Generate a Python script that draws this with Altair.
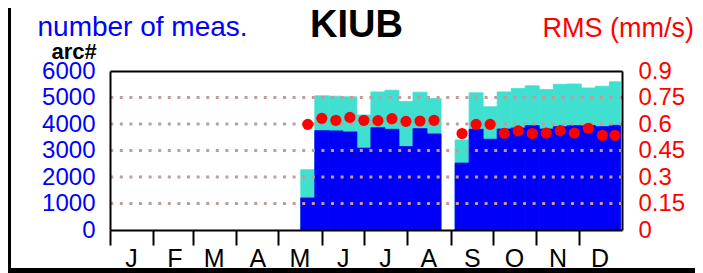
import altair as alt
import pandas as pd

# ---- data ----
bin_start = [136, 146, 156, 166, 176, 186, 196, 206, 216, 226,
             246, 256, 266, 276, 286, 296, 306, 316, 326, 336, 346, 356]
bin_end = [146, 156, 166, 176, 186, 196, 206, 216, 226, 236,
           256, 266, 276, 286, 296, 306, 316, 326, 336, 346, 356, 364]
total_meas = [2275, 5063, 5050, 5025, 4340, 5210, 5275, 4850, 5200, 4960,
              3400, 5175, 4650, 5210, 5340, 5440, 5300, 5500, 5510, 5360, 5425, 5590]
arc_meas = [1210, 3750, 3740, 3700, 3090, 3860, 3800, 3150, 3825, 3625,
            2525, 3800, 3425, 3810, 3850, 3940, 3810, 3900, 3940, 3940, 3900, 3950]
rms = [0.598, 0.632, 0.621, 0.6375, 0.621, 0.619, 0.630, 0.615, 0.617, 0.621,
       0.546, 0.598, 0.598, 0.5475, 0.561, 0.546, 0.549, 0.5625, 0.549, 0.576, 0.536, 0.536]

month_letters = ["J", "F", "M", "A", "M", "J", "J", "A", "S", "O", "N", "D"]
month_starts = [0, 31, 59, 90, 120, 151, 181, 212, 243, 273, 304, 334]
left_ticks = [0, 1000, 2000, 3000, 4000, 5000, 6000]
right_ticks = [0, 0.15, 0.3, 0.45, 0.6, 0.75, 0.9]
grid_levels = [1000, 2000, 3000, 4000, 5000]

df = pd.DataFrame({"start": bin_start, "end": bin_end, "total": total_meas,
                   "arc": arc_meas, "rms": rms})
grid_df = pd.DataFrame({"g": grid_levels})

FONT = "Liberation Sans"
W, H = 512, 159
TURQ = "#40e0d0"
BLUE = "#0000f8"

xscale = alt.Scale(domain=[0, 365], nice=False, zero=False)
yscale = alt.Scale(domain=[0, 6000], nice=False)
rscale = alt.Scale(domain=[0, 0.9], nice=False)

label_expr = ("[" + ",".join("'%s'" % m for m in month_letters) + "][indexof(["
              + ",".join(str(v) for v in month_starts) + "], datum.value)]")

x_axis = alt.Axis(values=month_starts, labelExpr=label_expr, labelOffset=21,
                  labelFontSize=25, labelColor="black", labelFont=FONT,
                  labelPadding=1, tickSize=15, tickWidth=2, tickColor="black",
                  domain=True, domainColor="black", domainWidth=2, grid=False,
                  zindex=1, labelFlush=False, labelOverlap=False,
                  title="number of meas.", titleColor="#0000ff", titleFont=FONT,
                  titleFontSize=28, titleFontWeight="normal", titleAngle=0,
                  titleAlign="left", titleBaseline="alphabetic",
                  titleX=-73, titleY=-195)

left_axis = alt.Axis(values=left_ticks, orient="left", labelColor="#0000ff",
                     labelExpr="format(datum.value, 'd')",
                     labelFontSize=24, labelFont=FONT, ticks=False, labelPadding=15,
                     domain=True, domainColor="black", domainWidth=2, grid=False,
                     zindex=1, labelFlush=False, labelOverlap=False,
                     title="arc#", titleColor="black", titleFont=FONT,
                     titleFontSize=22, titleFontWeight="bold", titleAngle=0,
                     titleAlign="left", titleBaseline="alphabetic",
                     titleX=-59, titleY=-13)

right_axis = alt.Axis(values=right_ticks, orient="right",
                      labelExpr="format(datum.value, '~g')",
                      labelColor="#ff0000", labelFontSize=24, labelFont=FONT,
                      ticks=False, labelPadding=16, domain=True, domainColor="black",
                      domainWidth=2, grid=False, zindex=1, labelFlush=False,
                      labelOverlap=False,
                      title="RMS (mm/s)", titleColor="#ff0000", titleFont=FONT,
                      titleFontSize=27, titleFontWeight="normal", titleAngle=0,
                      titleAlign="left", titleBaseline="alphabetic",
                      titleX=-80, titleY=-35)

top_axis = alt.Axis(orient="top", labels=False, ticks=False, domain=True,
                    domainColor="black", domainWidth=2, grid=False, zindex=1,
                    title="KIUB", titleColor="black", titleFont=FONT,
                    titleFontSize=38, titleFontWeight="bold", titleAngle=0,
                    titleAlign="center", titleBaseline="alphabetic",
                    titleX=246, titleY=-35)

base = alt.Chart(df)

turq = base.mark_bar(color=TURQ, stroke=TURQ, strokeWidth=0.8, opacity=1).encode(
    x=alt.X("start:Q", scale=xscale, axis=x_axis),
    x2="end:Q",
    y=alt.Y("total:Q", scale=yscale, axis=left_axis),
    y2=alt.datum(0),
)
blue = base.mark_bar(color=BLUE, stroke=BLUE, strokeWidth=0.8, opacity=1).encode(
    x=alt.X("start:Q", scale=xscale, axis=None),
    x2="end:Q",
    y=alt.Y("arc:Q", scale=yscale, axis=None),
    y2=alt.datum(0),
)
grid = alt.Chart(grid_df).mark_rule(color="#c49a9a", strokeWidth=3,
                                    strokeDash=[3, 6.6]).encode(
    y=alt.Y("g:Q", scale=yscale, axis=None),
)
dots = base.transform_calculate(mid="(datum.start + datum.end) / 2").mark_circle(
    color="#ff0000", opacity=1, size=125).encode(
    x=alt.X("mid:Q", scale=xscale, axis=top_axis),
    y=alt.Y("rms:Q", scale=rscale, axis=right_axis),
)
# figure frame strips (bottom and left edge of the reference image)
frame_bottom = alt.Chart(grid_df).mark_rule(color="black", strokeWidth=6).encode(
    x=alt.value(-102), x2=alt.value(585), y=alt.value(200))
frame_left = alt.Chart(grid_df).mark_rule(color="black", strokeWidth=3).encode(
    x=alt.value(-100.5), y=alt.value(-63), y2=alt.value(202))

chart = alt.layer(turq, blue, grid, dots, frame_bottom, frame_left).resolve_scale(
    y="independent").resolve_axis(x="independent", y="independent").properties(
    width=W, height=H,
    autosize=alt.AutoSizeParams(type="none"),
    padding={"left": 102, "top": 63, "right": 73, "bottom": 43},
).configure_view(stroke=None).configure(font=FONT)

chart.save("out.html", embed_options={"renderer": "svg", "actions": False})
